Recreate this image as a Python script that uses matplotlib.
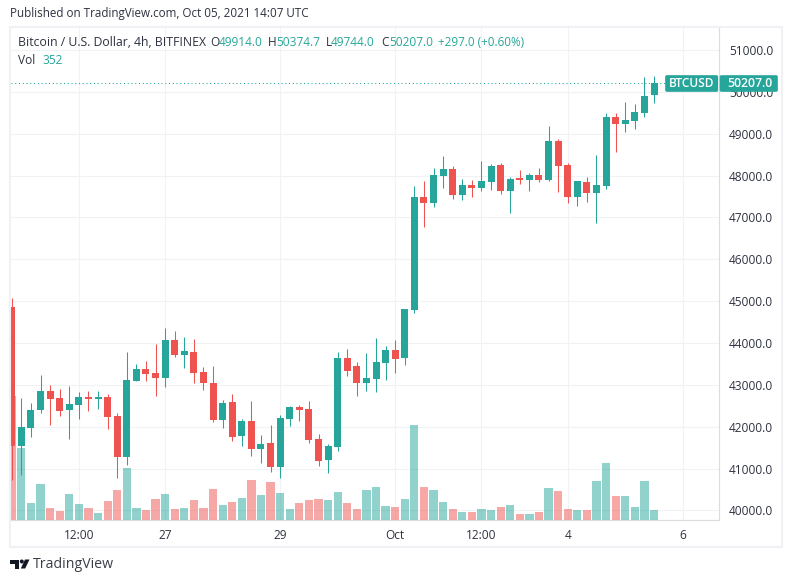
import matplotlib
matplotlib.use("Agg")
import matplotlib.pyplot as plt
from matplotlib.patches import Rectangle, Circle, Polygon, FancyBboxPatch

plt.rcParams['font.family'] = ['Open Sans', 'DejaVu Sans']

# Candle values
opens = [44858,41544,41975,42405,42851,42683,42405,42524,42707,42667,42707,42253,41282,43097,43376,43281,
         43169,44069,43719,43783,43305,43042,42166,42588,41783,42134,41473,41608,41042,42190,42468,42421,
         41704,41210,41520,43639,43448,43050,43145,43528,43830,43647,44786,47486,47343,47988,48155,47534,
         47773,47701,47845,48251,47630,47940,47893,48012,47893,48825,48251,47494,47845,47590,47757,49398,
         49239,49310,49502,49914]
closes = [41544,41990,42397,42851,42667,42381,42540,42707,42667,42707,42237,41282,43113,43376,43265,43169,
          44069,43719,43806,43289,43050,42166,42564,41759,42134,41473,41584,41042,42205,42468,42405,41688,
          41186,41536,43639,43337,43050,43161,43544,43830,43623,44810,47486,47343,48012,48155,47534,47773,
          47701,47869,48227,47630,47917,47893,48012,47893,48825,48227,47494,47869,47590,47773,49398,49239,
          49326,49517,49900,50207]
highs = [45073,42683,42556,43233,42986,42898,42970,42827,42851,42851,42779,42317,43783,43496,43568,43974,
         44356,44284,44141,44093,43424,43448,42636,42779,42182,42612,41799,42038,42277,42492,42516,42612,
         41823,41584,43783,43854,43544,43759,44117,43926,44069,44810,47749,47869,48179,48466,48227,47917,
         47893,48347,48275,48299,47964,48132,48060,48179,49183,48872,48299,47869,47964,48490,49494,49494,
         49756,49709,50354,50374.7]
lows = [40724,40844,41759,42333,42046,42261,41712,42190,42381,42429,41951,40780,41090,43097,43097,42739,
        42954,43671,43408,43050,42883,42118,41975,41664,41544,41305,41138,40923,40780,42022,42142,41616,
        41066,40899,41425,43217,42739,42859,42835,43121,43289,43472,44722,46770,47247,47701,47439,47415,
        47486,47630,47654,47558,47104,47797,47630,47845,47869,47606,47351,47279,47375,46873,47686,48570,
        49040,49119,49406,49744]
volumes = [4797,2769,624,1365,429,312,975,585,429,234,702,1131,1989,429,351,780,975,390,429,741,429,1170,546,663,
           819,1521,936,1443,1014,390,624,741,780,741,1053,624,390,1131,1248,507,468,780,3666,1248,1131,663,390,273,
           273,390,351,468,546,195,195,273,1209,1092,390,351,351,1482,2184,897,897,468,1482,352]

time_ticks = [7, 16, 28, 40, 49, 58, 70]
time_labels = ["12:00", "27", "29", "Oct", "12:00", "4", "6"]
price_ticks = [40000 + 1000 * i for i in range(12)]
price_labels = [f"{p}.0" for p in price_ticks]

UP = "#26a69a"
DOWN = "#ef5350"
GRID = "#f1f2f5"
AXIS = "#dcdde1"
TEXT = "#2e3240"
W, H = 793, 582

fig = plt.figure(figsize=(W / 100, H / 100), dpi=100, facecolor="white")
rect = [11 / W, 1 - 519.5 / H, (719 - 11) / W, (519.5 - 28) / H]

xlim = (-0.08, 73.78)
ylim = (39785, 51524)
xs = list(range(len(opens)))
colors = [UP if c >= o else DOWN for o, c in zip(opens, closes)]

# grid and axis labels
ax_g = fig.add_axes(rect, zorder=1)
ax_g.set_xlim(xlim)
ax_g.set_ylim(ylim)
ax_g.yaxis.tick_right()
ax_g.set_yticks(price_ticks, price_labels)
ax_g.set_xticks(time_ticks, time_labels)
ax_g.tick_params(axis='y', length=0, pad=7.3, labelsize=8.6, labelcolor=TEXT)
ax_g.tick_params(axis='x', length=0, pad=6.5, labelsize=8.6, labelcolor=TEXT)
ax_g.grid(True, color=GRID, linewidth=0.75)
ax_g.set_axisbelow(True)
for s in ('left', 'top'):
    ax_g.spines[s].set_visible(False)
for s in ('right', 'bottom'):
    ax_g.spines[s].set_color(AXIS)
    ax_g.spines[s].set_linewidth(0.85)

# volume
ax_v = fig.add_axes(rect, zorder=2, sharex=ax_g)
ax_v.patch.set_alpha(0)
ax_v.set_ylim(0, 19160)
ax_v.axis('off')
ax_v.bar(xs, volumes, width=0.86, color=colors, alpha=0.5, linewidth=0)

# candles
ax_c = fig.add_axes(rect, zorder=3, sharex=ax_g)
ax_c.patch.set_alpha(0)
ax_c.set_ylim(ylim)
ax_c.axis('off')
ax_c.vlines(xs, lows, highs, colors=colors, linewidth=0.75, zorder=2)
ax_c.bar(xs, [abs(c - o) for o, c in zip(opens, closes)], bottom=[min(o, c) for o, c in zip(opens, closes)],
         width=0.73, color=colors, linewidth=0, zorder=3)
ax_c.plot([xlim[0], 68.7], [closes[-1], closes[-1]], color=UP, linewidth=0.75, linestyle=(0, (1, 2.6)), zorder=1)

# overlay in pixel coordinates: frame, tags, header, logo
ov = fig.add_axes([0, 0, 1, 1], zorder=4)
ov.set_xlim(0, W)
ov.set_ylim(H, 0)
ov.axis('off')
ov.patch.set_alpha(0)
ov.add_patch(Rectangle((10, 27), 772, 519.5, fill=False, edgecolor="#f0f1f5", linewidth=1.5))

for x0, x1 in ((665, 718.3), (719.5, 778)):
    ov.add_patch(FancyBboxPatch((x0 + 1, 76), x1 - x0 - 2, 15, boxstyle="round,pad=0,rounding_size=1",
                                mutation_aspect=1, facecolor=UP, edgecolor=UP, linewidth=1.2))
ov.text(691.5, 83.5, "BTCUSD", color="white", fontsize=8.6, ha="center", va="center", fontweight="semibold")
ov.text(749.5, 83.5, "50207.0", color="white", fontsize=8.8, ha="center", va="center", fontweight="semibold")

ov.text(10, 14, "Published on TradingView.com, Oct 05, 2021 14:07 UTC", color=TEXT, fontsize=8.42, va="center")
LEG = 8.6
ov.text(18, 42.5, "Bitcoin / U.S. Dollar, 4h, BITFINEX", color=TEXT, fontsize=8.8, va="center")
for lx, lab, vx, val in ((210.5, "O", 219, "49914.0"), (268, "H", 276.5, "50374.7"),
                         (325.5, "L", 331, "49744.0"), (381, "C", 389.5, "50207.0")):
    ov.text(lx, 42.5, lab, color=TEXT, fontsize=LEG, va="center")
    ov.text(vx, 42.5, val, color=UP, fontsize=LEG, va="center")
ov.text(438, 42.5, "+297.0 (+0.60%)", color=UP, fontsize=8.35, va="center")
ov.text(18, 60.5, "Vol", color=TEXT, fontsize=LEG, va="center")
ov.text(42.5, 60.5, "352", color=UP, fontsize=LEG, va="center")

LOGO = "#131722"
ov.add_patch(Polygon([(10, 559.5), (19, 559.5), (19, 568.5), (15, 568.5), (15, 563.5), (10, 563.5)], color=LOGO, lw=0))
ov.add_patch(Circle((21.8, 561.5), 2.0, color=LOGO, lw=0))
ov.add_patch(Polygon([(25, 559.5), (29.5, 559.5), (25.2, 568.5), (20.8, 568.5)], color=LOGO, lw=0))
ov.text(33, 564, "TradingView", color="#3a3e4a", fontsize=10.2, va="center")

fig.savefig("out.png", dpi=100)
